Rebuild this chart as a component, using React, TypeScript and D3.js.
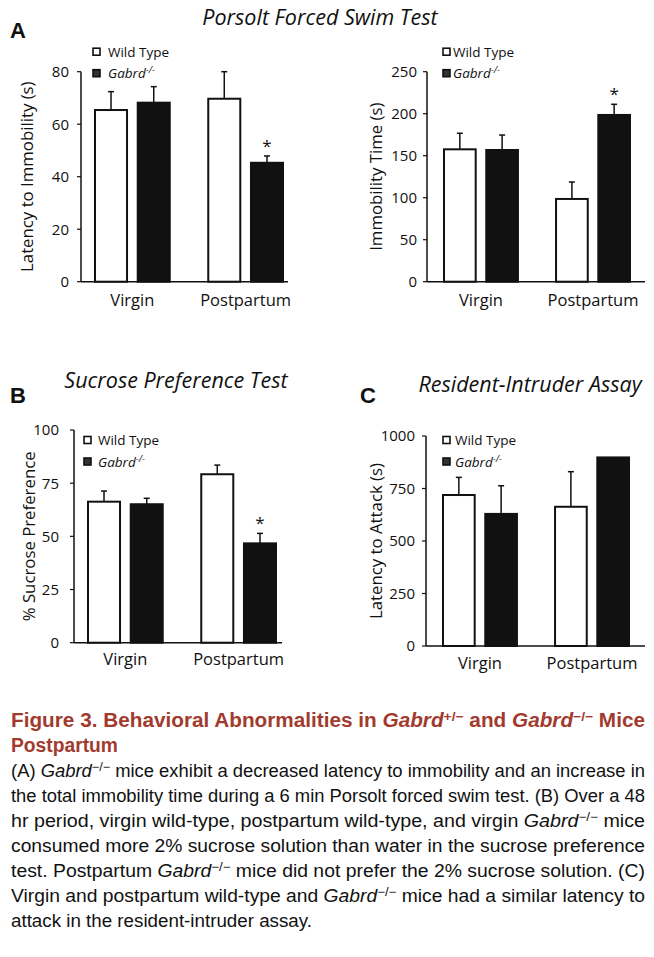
import React from "react";
import * as d3 from "d3";

// ---- data ----
const groups = ["Virgin", "Postpartum"];
const seriesNames = ["Wild Type", "Gabrd"];

// Porsolt forced swim: latency to immobility (s)
const latencyWT = [65.4, 69.7];
const latencyWTErr = [7.0, 10.3];
const latencyKO = [68.2, 45.3];
const latencyKOErr = [6.1, 2.6];
const latencyTicks = [0, 20, 40, 60, 80];
const latencyStars = ["Postpartum"];

// Porsolt forced swim: immobility time (s)
const immobWT = [157.6, 98.5];
const immobWTErr = [19.1, 20.2];
const immobKO = [156.8, 198.5];
const immobKOErr = [17.8, 12.7];
const immobTicks = [0, 50, 100, 150, 200, 250];
const immobStars = ["Postpartum"];

// Sucrose preference (%)
const sucroseWT = [66.3, 79.2];
const sucroseWTErr = [5.0, 4.3];
const sucroseKO = [65.1, 46.7];
const sucroseKOErr = [2.8, 4.7];
const sucroseTicks = [0, 25, 50, 75, 100];
const sucroseStars = ["Postpartum"];

// Resident-intruder: latency to attack (s)
const attackWT = [719, 663];
const attackWTErr = [84, 167];
const attackKO = [629, 898];
const attackKOErr = [134, 0];
const attackTicks = [0, 250, 500, 750, 1000];
const attackStars: string[] = [];

const FONT = "'Open Sans', 'Noto Sans', sans-serif";
const CAP_FONT = "'Liberation Sans', Arial, sans-serif";
const RED = "#a23b2e";

function Legend({ x, y, x2 }) {
  return (
    <g fontFamily={FONT} fontSize={13.5}>
      <rect x={x} y={y - 3.5} width={7} height={7} fill="#fff" stroke="#111" strokeWidth={1.6} />
      <text x={x2} y={y + 4.8} fill="#111">{seriesNames[0]}</text>
      <rect x={x} y={y + 18} width={7} height={7} fill="#333" stroke="#111" strokeWidth={1.6} />
      <text x={x2} y={y + 26.5} fill="#111" fontStyle="italic">
        {seriesNames[1]}
        <tspan fontSize={9.5} dy={-5}>-/-</tspan>
      </text>
    </g>
  );
}

function BarPanel({ p }) {
  const y = d3.scaleLinear().domain([0, p.ticks[p.ticks.length - 1]]).range([p.yBottom, p.yTop]);
  const x = d3.scaleBand().domain(groups).range([p.bx0, p.bx1]).paddingInner(0.34);
  const inner = d3.scaleBand().domain(seriesNames).range([0, x.bandwidth()]).paddingInner(0.25);
  const series = [
    { name: seriesNames[0], vals: p.wt, errs: p.wtErr, fill: "#fff" },
    { name: seriesNames[1], vals: p.ko, errs: p.koErr, fill: "#111" },
  ];
  return (
    <g>
      {series.map((s) =>
        groups.map((g, i) => {
          const bx = x(g) + inner(s.name);
          const cx = bx + inner.bandwidth() / 2;
          const top = y(s.vals[i]);
          const et = y(s.vals[i] + s.errs[i]);
          const star = s.name === seriesNames[1] && p.stars.includes(g);
          return (
            <g key={s.name + g}>
              {s.errs[i] > 0 && (
                <g stroke="#111" strokeWidth={1.5}>
                  <line x1={cx} x2={cx} y1={top} y2={et} />
                  <line x1={cx - 3} x2={cx + 3} y1={et} y2={et} />
                </g>
              )}
              <rect x={bx} y={top} width={inner.bandwidth()} height={p.yBottom - top}
                fill={s.fill} stroke="#111" strokeWidth={2} />
              {star && (
                <text x={cx} y={et - 4} textAnchor="middle" fontFamily={FONT} fontSize={17} fill="#111">*</text>
              )}
            </g>
          );
        })
      )}
      {/* axes */}
      <line x1={p.x0} x2={p.x0} y1={p.yTop} y2={p.yBottom} stroke="#111" strokeWidth={1.5} />
      <line x1={p.x0} x2={p.x1} y1={p.yBottom} y2={p.yBottom} stroke="#111" strokeWidth={1.5} />
      {p.ticks.map((t) => (
        <g key={t}>
          <line x1={p.x0 - 4} x2={p.x0} y1={y(t)} y2={y(t)} stroke="#111" strokeWidth={1.2} />
          <text x={p.x0 - p.gap} y={y(t)} dy="0.36em" textAnchor="end" fontFamily={FONT} fontSize={15} fill="#111">{t}</text>
        </g>
      ))}
      {groups.map((g) => (
        <text key={g} x={x(g) + x.bandwidth() / 2} y={p.yBottom + p.labelDy} textAnchor="middle"
          fontFamily={FONT} fontSize={16.5} fill="#111">{g}</text>
      ))}
      <text transform={`translate(${p.yLabelX},${(p.yTop + p.yBottom) / 2}) rotate(-90)`} textAnchor="middle"
        fontFamily={FONT} fontSize={16.8} fill="#111">{p.yLabel}</text>
      <Legend x={p.legX} y={p.legY} x2={p.legTextX} />
    </g>
  );
}

const panels = [
  { wt: latencyWT, wtErr: latencyWTErr, ko: latencyKO, koErr: latencyKOErr, ticks: latencyTicks, stars: latencyStars,
    yLabel: "Latency to Immobility (s)", x0: 81, x1: 288, yTop: 71.7, yBottom: 281.7, bx0: 95, bx1: 283,
    gap: 12, labelDy: 24, yLabelX: 33, legX: 93, legY: 51.7, legTextX: 108 },
  { wt: immobWT, wtErr: immobWTErr, ko: immobKO, koErr: immobKOErr, ticks: immobTicks, stars: immobStars,
    yLabel: "Immobility Time (s)", x0: 427, x1: 645, yTop: 71.7, yBottom: 281.7, bx0: 444, bx1: 630,
    gap: 10, labelDy: 24, yLabelX: 382, legX: 443, legY: 51.7, legTextX: 453 },
  { wt: sucroseWT, wtErr: sucroseWTErr, ko: sucroseKO, koErr: sucroseKOErr, ticks: sucroseTicks, stars: sucroseStars,
    yLabel: "% Sucrose Preference", x0: 74, x1: 282, yTop: 430, yBottom: 642.7, bx0: 88, bx1: 276,
    gap: 15, labelDy: 22, yLabelX: 35, legX: 84, legY: 440, legTextX: 98 },
  { wt: attackWT, wtErr: attackWTErr, ko: attackKO, koErr: attackKOErr, ticks: attackTicks, stars: attackStars,
    yLabel: "Latency to Attack (s)", x0: 426, x1: 645, yTop: 436, yBottom: 646, bx0: 443, bx1: 629,
    gap: 11, labelDy: 23, yLabelX: 382, legX: 443, legY: 440, legTextX: 455 },
];

// caption lines: segments of [text, kind] (0 plain, 1 italic, 2 superscript)
const SUP = "\u2212/\u2212";
const captionBody = [
  [["(A) ", 0], ["Gabrd", 1], [SUP, 2], [" mice exhibit a decreased latency to immobility and an increase in", 0]],
  [["the total immobility time during a 6 min Porsolt forced swim test. (B) Over a 48", 0]],
  [["hr period, virgin wild-type, postpartum wild-type, and virgin ", 0], ["Gabrd", 1], [SUP, 2], [" mice", 0]],
  [["consumed more 2% sucrose solution than water in the sucrose preference", 0]],
  [["test. Postpartum ", 0], ["Gabrd", 1], [SUP, 2], [" mice did not prefer the 2% sucrose solution. (C)", 0]],
  [["Virgin and postpartum wild-type and ", 0], ["Gabrd", 1], [SUP, 2], [" mice had a similar latency to", 0]],
  [["attack in the resident-intruder assay.", 0]],
];
const captionLen = [634, 634, 634, 634, 634, 634, 301];
const captionTitle = [["Figure 3. Behavioral Abnormalities in ", 0], ["Gabrd", 1], ["+/\u2212", 2], [" and ", 0], ["Gabrd", 1], [SUP, 2], [" Mice", 0]];

function Segs({ segs, supSize }) {
  return segs.map(([t, k], i) => {
    if (k === 2) return <tspan key={i} fontSize={supSize} dy={-6}>{t}</tspan>;
    const after = i > 0 && segs[i - 1][1] === 2;
    return <tspan key={i} fontStyle={k === 1 ? "italic" : "normal"} dy={after ? 6 : 0}>{t}</tspan>;
  });
}

export default function App() {
  return (
    <svg width={654} height={957} style={{ position: "absolute", left: 0, top: 0, background: "#fff" }}>
      <rect width={654} height={957} fill="#fff" />
      {/* panel letters & titles */}
      <g fontFamily={CAP_FONT} fontWeight="bold" fontSize={22} fill="#111">
        <text x={10} y={38}>A</text>
        <text x={10} y={403}>B</text>
        <text x={360} y={403}>C</text>
      </g>
      <g fontFamily={FONT} fontStyle="italic" fontSize={21.5} fill="#111" textAnchor="middle">
        <text x={320} y={25}>Porsolt Forced Swim Test</text>
        <text x={176} y={388}>Sucrose Preference Test</text>
        <text x={530} y={392}>Resident-Intruder Assay</text>
      </g>
      {panels.map((p, i) => <BarPanel key={i} p={p} />)}
      {/* caption */}
      <g fontFamily={CAP_FONT} fontWeight="bold" fontSize={19.5} fill={RED}>
        <text x={11} y={727} textLength={634} lengthAdjust="spacingAndGlyphs">
          <Segs segs={captionTitle} supSize={13} />
        </text>
        <text x={11} y={752} textLength={107} lengthAdjust="spacingAndGlyphs">Postpartum</text>
      </g>
      <g fontFamily={CAP_FONT} fontSize={17.5} fill="#111">
        {captionBody.map((line, i) => (
          <text key={i} x={11} y={777 + i * 25} textLength={captionLen[i]} lengthAdjust="spacingAndGlyphs">
            <Segs segs={line} supSize={12} />
          </text>
        ))}
      </g>
    </svg>
  );
}
